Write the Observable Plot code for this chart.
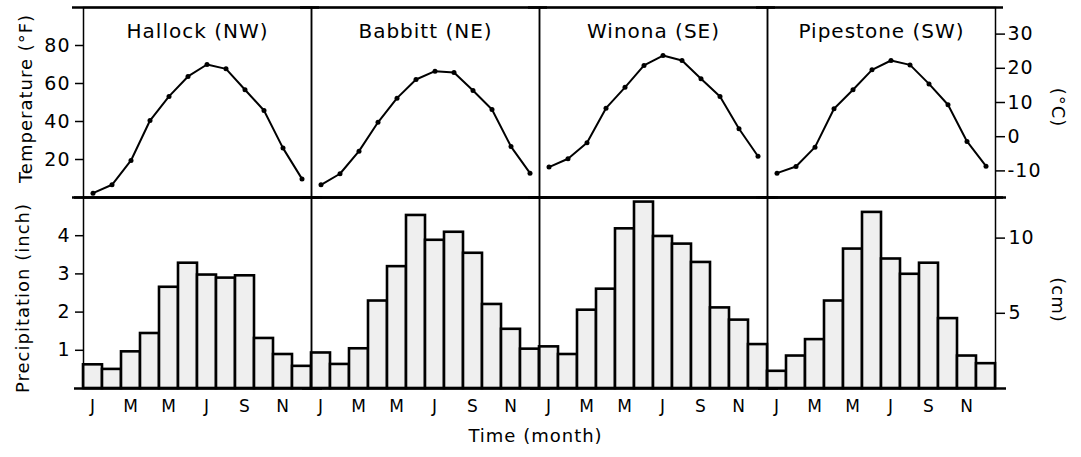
<!DOCTYPE html>
<html><head><meta charset="utf-8">
<script src="https://cdn.jsdelivr.net/npm/d3@7"></script>
<script src="https://cdn.jsdelivr.net/npm/@observablehq/plot@0.6"></script>
<style>
body{margin:0;background:#fff;}
#wrap{position:relative;width:1081px;height:457px;overflow:hidden;}
#wrap > svg{position:absolute;left:0;}
</style></head><body><div id="wrap"></div>
<script>
const stations = ["Hallock (NW)", "Babbitt (NE)", "Winona (SE)", "Pipestone (SW)"];
const months = [1,2,3,4,5,6,7,8,9,10,11,12];
const monthTicks = [1,3,5,7,9,11];
const monthLetters = ["J","F","M","A","M","J","J","A","S","O","N","D"];

// Mean monthly temperature (°F)
const tempHallock   = [2.3, 6.7, 19.5, 40.5, 53.2, 63.7, 70.0, 67.7, 56.7, 45.8, 26.0, 9.8];
const tempBabbitt   = [6.7, 12.5, 24.4, 39.6, 52.3, 62.1, 66.5, 65.8, 56.3, 46.3, 26.8, 12.8];
const tempWinona    = [16.0, 20.4, 28.8, 47.0, 58.0, 69.5, 74.7, 72.1, 62.5, 53.2, 36.2, 21.7];
const tempPipestone = [12.8, 16.3, 26.5, 46.7, 56.7, 67.2, 72.1, 69.8, 59.8, 48.8, 29.5, 16.5];

// Mean monthly precipitation (inch)
const precipHallock   = [0.62, 0.50, 0.96, 1.44, 2.65, 3.28, 2.97, 2.89, 2.95, 1.31, 0.89, 0.58];
const precipBabbitt   = [0.93, 0.63, 1.04, 2.29, 3.19, 4.53, 3.88, 4.09, 3.54, 2.20, 1.55, 1.03];
const precipWinona    = [1.09, 0.89, 2.05, 2.60, 4.18, 4.88, 3.98, 3.78, 3.30, 2.11, 1.79, 1.15];
const precipPipestone = [0.45, 0.85, 1.28, 2.29, 3.65, 4.61, 3.39, 2.99, 3.28, 1.83, 0.85, 0.65];

const tempFTicks = [20, 40, 60, 80];
const tempCTicks = [-10, 0, 10, 20, 30];
const precipInTicks = [1, 2, 3, 4];
const precipCmTicks = [5, 10];

const tempSeries = [tempHallock, tempBabbitt, tempWinona, tempPipestone];
const precipSeries = [precipHallock, precipBabbitt, precipWinona, precipPipestone];
const tempData = stations.flatMap((s, i) => tempSeries[i].map((v, j) => ({station: s, month: months[j], value: v})));
const precipData = stations.flatMap((s, i) => precipSeries[i].map((v, j) => ({station: s, month: months[j], value: v})));

const font = "'DejaVu Sans', sans-serif";
const baseStyle = {background: "transparent", fontFamily: font, fontSize: "19px", color: "black", letterSpacing: "1px"};

const temp = Plot.plot({
  width: 1081, height: 199,
  marginLeft: 82, marginRight: 85, marginTop: 7, marginBottom: 2,
  style: baseStyle,
  fx: {domain: stations, padding: 0, axis: null},
  x: {domain: [0.5, 12.5], axis: null},
  y: {domain: [0, 100], axis: null},
  marks: [
    Plot.frame({stroke: "black", strokeWidth: 1.5}),
    Plot.ruleY([0, 100], {stroke: "black", strokeWidth: 2.6, insetLeft: -11, insetRight: -8}),
    Plot.axisY(tempFTicks, {anchor: "left", tickSize: 8, tickPadding: 5, label: null, strokeWidth: 1.5}),
    Plot.axisY(tempCTicks.map(c => c * 9 / 5 + 32), {anchor: "right", tickSize: 9, tickPadding: 3, label: null, strokeWidth: 1.5,
      tickFormat: f => String(Math.round((f - 32) * 5 / 9))}),
    Plot.line(tempData, {fx: "station", x: "month", y: "value", stroke: "black", strokeWidth: 2}),
    Plot.dot(tempData, {fx: "station", x: "month", y: "value", r: 2.5, fill: "black"}),
    Plot.text(stations, {fx: d => d, text: d => d, frameAnchor: "top", lineAnchor: "middle", textAnchor: "middle", dy: 24, fontSize: 20}),
    Plot.text(["Temperature (°F)"], {fx: () => stations[0], text: d => d, frameAnchor: "left", textAnchor: "middle", lineAnchor: "middle", dx: -57, dy: -4, rotate: -90, fontSize: 18}),
    Plot.text(["(°C)"], {fx: () => stations[3], text: d => d, frameAnchor: "right", textAnchor: "middle", lineAnchor: "middle", dx: 62, dy: 5, rotate: 90, fontSize: 18})
  ]
});

const precip = Plot.plot({
  width: 1081, height: 262,
  marginLeft: 82, marginRight: 85, marginTop: 2, marginBottom: 69,
  style: baseStyle,
  fx: {domain: stations, padding: 0, axis: null},
  x: {domain: [0.5, 12.5], axis: null},
  y: {domain: [0, 5], axis: null},
  marks: [
    Plot.rect(precipData, {fx: "station", x1: d => d.month - 0.5, x2: d => d.month + 0.5, y1: 0, y2: "value",
      fill: "#efefef", stroke: "black", strokeWidth: 2.6}),
    Plot.frame({stroke: "black", strokeWidth: 1.5}),
    Plot.ruleY([0, 5], {stroke: "black", strokeWidth: 2.4, insetLeft: -9, insetRight: -11}),
    Plot.axisY(precipInTicks, {anchor: "left", tickSize: 8, tickPadding: 5, label: null, strokeWidth: 1.5}),
    Plot.axisY(precipCmTicks.map(c => c / 2.54), {anchor: "right", tickSize: 9, tickPadding: 4, label: null, strokeWidth: 1.5,
      tickFormat: v => String(Math.round(v * 2.54))}),
    Plot.axisX(monthTicks, {anchor: "bottom", tickSize: 0, tickPadding: 11, label: null, fontSize: 17,
      tickFormat: m => monthLetters[m - 1]}),
    Plot.text(["Precipitation (inch)"], {fx: () => stations[0], text: d => d, frameAnchor: "left", textAnchor: "middle", lineAnchor: "middle", dx: -60, dy: 5, rotate: -90, fontSize: 18}),
    Plot.text(["(cm)"], {fx: () => stations[3], text: d => d, frameAnchor: "right", textAnchor: "middle", lineAnchor: "middle", dx: 62, dy: 7, rotate: 90, fontSize: 18}),
    Plot.text(["Time (month)"], {fx: () => stations[1], text: d => d, frameAnchor: "bottom-right", textAnchor: "middle", lineAnchor: "middle", dx: -4, dy: 48, fontSize: 18})
  ]
});

const wrap = document.getElementById("wrap");
temp.style.top = "0px";
precip.style.top = "195px";
wrap.appendChild(temp);
wrap.appendChild(precip);
</script></body></html>
